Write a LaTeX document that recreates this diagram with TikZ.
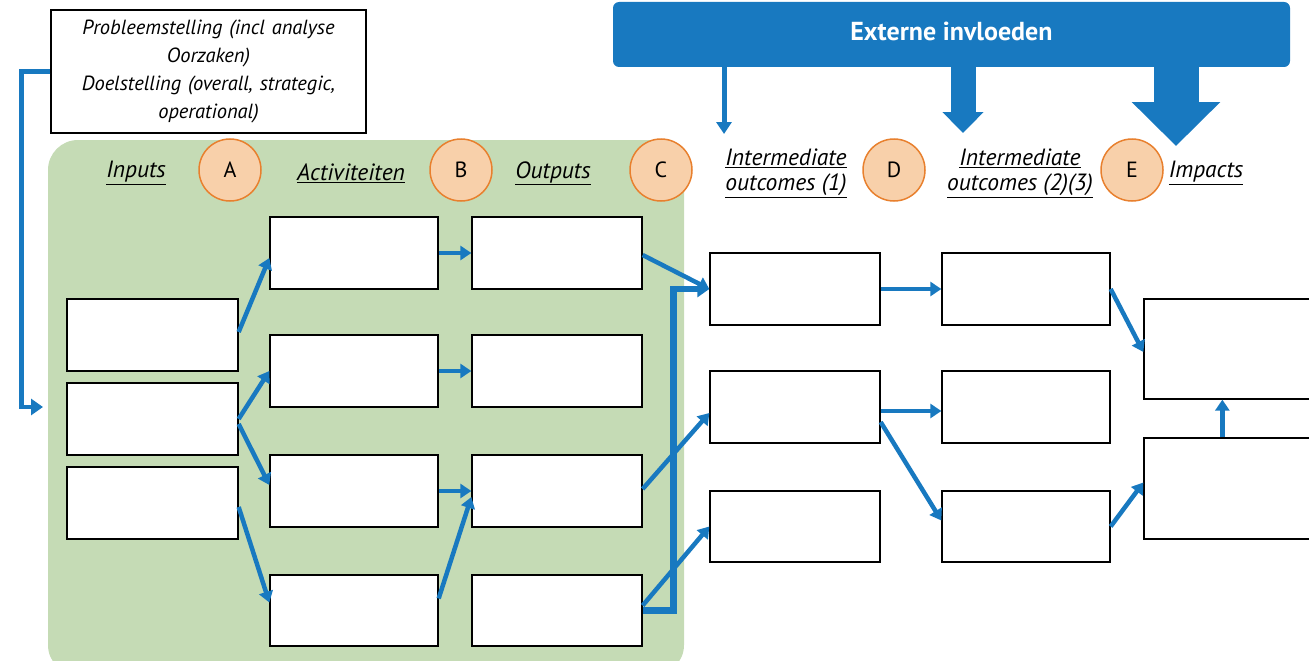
\documentclass[tikz,border=0pt]{standalone}
\usepackage{fontspec}
\setmainfont{PT Sans}
\usetikzlibrary{arrows.meta,calc}
\definecolor{rblue}{RGB}{24,121,192}
\definecolor{rgreen}{RGB}{197,219,181}
\definecolor{rofill}{RGB}{248,208,170}
\definecolor{roline}{RGB}{232,128,46}
\begin{document}
\begin{tikzpicture}[x=1pt,y=-1pt,
  box/.style={draw=black,line width=1.3pt,fill=white,inner sep=0pt,minimum height=72pt},
  circ/.style={circle,draw=roline,fill=rofill,line width=1.5pt,minimum size=62pt,inner sep=0pt,font=\fontsize{22}{24}\selectfont},
  hdr/.style={align=center,font=\itshape\fontsize{23.5}{25}\selectfont},
  conn/.style={draw=rblue,line width=4.5pt,-{Triangle[length=11pt,width=14pt]}},
  thick conn/.style={draw=rblue,line width=6.5pt,-{Triangle[length=12pt,width=16pt]}}
]
\useasboundingbox (0,0) rectangle (1309,661);
% green background
\fill[rgreen, rounded corners=30pt] (48,140) rectangle (684,675);

% problem box
\node[draw=black,line width=1.3pt,fill=white,minimum width=315pt,minimum height=123pt,text width=310pt,align=center,inner sep=0pt,
  font=\itshape\fontsize{20.5}{28}\selectfont] (prob) at (208.5,71.5)
  {Probleemstelling (incl analyse\\Oorzaken)\\Doelstelling (overall, strategic,\\operational)};

% banner
\node[fill=rblue, rounded corners=6pt, minimum width=677pt, minimum height=65pt, inner sep=0pt,
  text=white, font=\bfseries\fontsize{26}{28}\selectfont] (ext) at (951.5,34.5) {\raisebox{6pt}{Externe invloeden}};

% headers
\node[hdr] (hI) at (136,173) {\underline{Inputs}};
\node[hdr] (hA) at (351,173) {\underline{Activiteiten}};
\node[hdr] (hO) at (553,173) {\underline{Outputs}};
\node[hdr] (hM) at (786,173) {\underline{Intermediate}\\\underline{outcomes (1)}};
\node[hdr] (hN) at (1020,173) {\underline{Intermediate}\\\underline{outcomes (2)(3)}};
\node[hdr] (hP) at (1206,173) {\underline{Impacts}};

% circles
\node[circ] (cA) at (230,170) {A};
\node[circ] (cB) at (461,170) {B};
\node[circ] (cC) at (661,170) {C};
\node[circ] (cD) at (894,170) {D};
\node[circ] (cE) at (1132,170) {E};

% external influence arrows
\coordinate (t1) at (724,134);
\coordinate (t2) at (963,133);
\coordinate (t3) at (1176,146);
\draw[rblue,line width=5pt,-{Triangle[length=12pt,width=15pt]}] (ext.south -| t1) -- (t1);
\draw[rblue,line width=25pt,-{Triangle[length=21pt,width=40pt]}] (ext.south -| t2) -- (t2);
\draw[rblue,line width=45pt,-{Triangle[length=44pt,width=86pt]}] (ext.south -| t3) -- (t3);

% boxes
\node[box,minimum width=171pt] (I1) at (152.5,335) {};
\node[box,minimum width=171pt] (I2) at (152.5,419) {};
\node[box,minimum width=171pt] (I3) at (152.5,503) {};

\node[box,minimum width=168pt] (A1) at (354,253) {};
\node[box,minimum width=168pt] (A2) at (354,371) {};
\node[box,minimum width=168pt] (A3) at (354,491) {};
\node[box,minimum width=168pt,minimum height=71pt] (A4) at (354,610.5) {};

\node[box,minimum width=170pt] (O1) at (557,253) {};
\node[box,minimum width=170pt] (O2) at (557,371) {};
\node[box,minimum width=170pt] (O3) at (557,491) {};
\node[box,minimum width=170pt,minimum height=71pt] (O4) at (557,610.5) {};

\node[box,minimum width=170pt] (M1) at (795,289) {};
\node[box,minimum width=170pt] (M2) at (795,407) {};
\node[box,minimum width=170pt,minimum height=71pt] (M3) at (795,526.5) {};

\node[box,minimum width=168pt] (N1) at (1026,289) {};
\node[box,minimum width=168pt] (N2) at (1026,407) {};
\node[box,minimum width=168pt,minimum height=71pt] (N3) at (1026,526.5) {};

\node[box,minimum width=176pt,minimum height=100pt] (P1) at (1232,349) {};
\node[box,minimum width=176pt,minimum height=101pt] (P2) at (1232,488.5) {};

% feedback arrow
\coordinate (fb) at (43,407);
\draw[conn,-{Triangle[length=12pt,width=16pt]}] (prob.west) -- ++(-29,0) |- (fb);

% connectors inputs -> activities
\draw[conn] ([yshift=3pt]I1.east) -- ([yshift=-5pt]A1.west);
\draw[conn] (I2.east) -- (A2.west);
\draw[conn] ([yshift=-5pt]I2.east) -- ([yshift=6pt]A3.west);
\draw[conn] ([yshift=-4pt]I3.east) -- ([yshift=8pt]A4.west);

% activities -> outputs
\draw[conn] (A1.east) -- (O1.west);
\draw[conn] (A2.east) -- (O2.west);
\draw[conn] (A3.east) -- (O3.west);
\draw[conn] ([yshift=12pt]A4.east) -- ([yshift=-6pt]O3.west);

% outputs -> intermediate (1)
\draw[conn] ([yshift=-2pt]O1.east) -- (M1.west);
\draw[thick conn] (O4.east) -- ++(31,0) |- (M1.west);
\draw[conn] ([yshift=2pt]O3.east) -- ([yshift=-6pt]M2.west);
\draw[conn] ([yshift=5pt]O4.east) -- (M3.west);

% intermediate (1) -> (2)(3)
\draw[conn] (M1.east) -- (N1.west);
\draw[conn] ([yshift=-4pt]M2.east) -- ([yshift=-4pt]N2.west);
\draw[conn] ([yshift=-15pt]M2.east) -- ([yshift=6pt]N3.west);

% -> impacts
\draw[conn] (N1.east) -- ([yshift=-3pt]P1.west);
\draw[conn] (N3.east) -- ([yshift=6pt]P2.west);
\draw[conn] ([xshift=79pt]P2.north west) -- ([xshift=79pt]P1.south west);
\end{tikzpicture}
\end{document}
